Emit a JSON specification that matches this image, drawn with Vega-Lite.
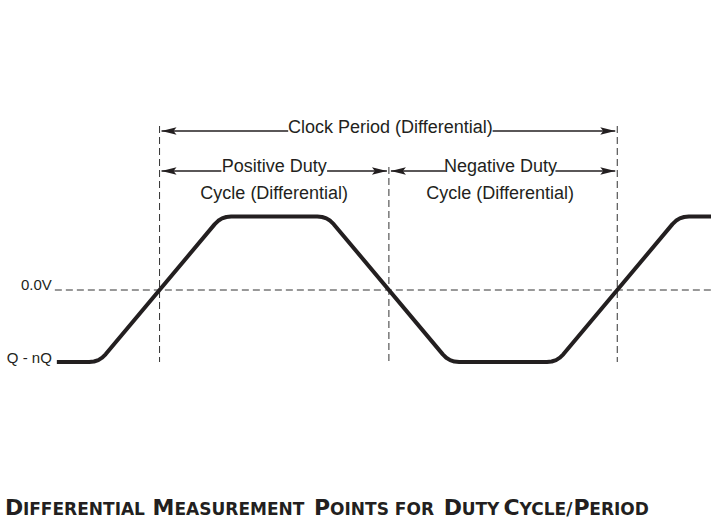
{
  "$schema": "https://vega.github.io/schema/vega-lite/v6.json",
  "width": 713,
  "height": 523,
  "autosize": {"type": "fit", "contains": "padding"},
  "padding": 0,
  "background": "white",
  "config": {"view": {"stroke": null}},
  "datasets": {
    "wave": [
      {"t": 57, "v": 362},
      {"t": 89.5, "v": 362}, {"t": 94.27, "v": 361.52}, {"t": 98.6, "v": 360.08}, {"t": 102.47, "v": 357.67}, {"t": 105.9, "v": 354.3},
      {"t": 215.37, "v": 224.16}, {"t": 218.82, "v": 220.81}, {"t": 222.69, "v": 218.42}, {"t": 227.03, "v": 216.98}, {"t": 231.8, "v": 216.5},
      {"t": 318.2, "v": 216.5}, {"t": 322.99, "v": 216.98}, {"t": 327.31, "v": 218.42}, {"t": 331.21, "v": 220.81}, {"t": 334.64, "v": 224.16},
      {"t": 444.07, "v": 354.35}, {"t": 447.51, "v": 357.7}, {"t": 451.4, "v": 360.09}, {"t": 455.72, "v": 361.53}, {"t": 460.5, "v": 362},
      {"t": 548.5, "v": 362}, {"t": 553.27, "v": 361.52}, {"t": 557.6, "v": 360.08}, {"t": 561.47, "v": 357.67}, {"t": 564.9, "v": 354.3},
      {"t": 674.37, "v": 224.16}, {"t": 677.82, "v": 220.81}, {"t": 681.69, "v": 218.42}, {"t": 686.03, "v": 216.98}, {"t": 690.8, "v": 216.5},
      {"t": 713, "v": 216.5}
    ],
    "hdash": [{"t": 55, "t2": 713, "v": 290}],
    "vdash": [
      {"t": 160, "v": 126, "v2": 362},
      {"t": 390, "v": 167, "v2": 362},
      {"t": 619, "v": 126, "v2": 362}
    ],
    "segs": [
      {"t": 162, "t2": 289, "v": 131},
      {"t": 494, "t2": 617, "v": 131},
      {"t": 162, "t2": 222, "v": 171},
      {"t": 328, "t2": 388, "v": 171},
      {"t": 392, "t2": 447, "v": 171},
      {"t": 557, "t2": 617, "v": 171}
    ],
    "heads": [
      {"t": 162, "v": 131, "dir": "left"},
      {"t": 162, "v": 171, "dir": "left"},
      {"t": 392, "v": 171, "dir": "left"},
      {"t": 617, "v": 131, "dir": "right"},
      {"t": 388, "v": 171, "dir": "right"},
      {"t": 617, "v": 171, "dir": "right"}
    ],
    "notes": [
      {"t": 391.5, "v": 133, "text": "Clock Period (Differential)"},
      {"t": 275, "v": 172, "text": "Positive Duty"},
      {"t": 275, "v": 198.5, "text": "Cycle (Differential)"},
      {"t": 502, "v": 172, "text": "Negative Duty"},
      {"t": 501.5, "v": 198.5, "text": "Cycle (Differential)"}
    ],
    "levels": [
      {"t": 52, "v": 289.5, "text": "0.0V"},
      {"t": 52, "v": 363, "text": "Q - nQ"}
    ],
    "title": [
      {"t": 5, "v": 515, "text": "D", "role": "cap"},
      {"t": 23, "v": 515, "text": "IFFERENTIAL", "role": "small"},
      {"t": 153, "v": 515, "text": "M", "role": "cap"},
      {"t": 175, "v": 515, "text": "EASUREMENT", "role": "small"},
      {"t": 315, "v": 515, "text": "P", "role": "cap"},
      {"t": 331, "v": 515, "text": "OINTS FOR", "role": "small"},
      {"t": 445, "v": 515, "text": "D", "role": "cap"},
      {"t": 463, "v": 515, "text": "UTY", "role": "small"},
      {"t": 505, "v": 515, "text": "C", "role": "cap"},
      {"t": 521, "v": 515, "text": "YCLE/", "role": "small"},
      {"t": 575, "v": 515, "text": "P", "role": "cap"},
      {"t": 591, "v": 515, "text": "ERIOD", "role": "small"}
    ]
  },
  "encoding": {
    "x": {"field": "t", "type": "quantitative", "scale": {"domain": [0, 713], "nice": false, "zero": false}, "axis": null},
    "y": {"field": "v", "type": "quantitative", "scale": {"domain": [0, 523], "nice": false, "zero": false, "reverse": true}, "axis": null}
  },
  "layer": [
    {
      "data": {"name": "hdash"},
      "mark": {"type": "rule", "color": "#333333", "strokeWidth": 1, "strokeDash": [7, 4]},
      "encoding": {"x2": {"field": "t2"}}
    },
    {
      "data": {"name": "vdash"},
      "mark": {"type": "rule", "color": "#333333", "strokeWidth": 1, "strokeDash": [7, 4]},
      "encoding": {"y2": {"field": "v2"}}
    },
    {
      "data": {"name": "wave"},
      "mark": {"type": "line", "color": "#231f20", "strokeWidth": 4, "strokeJoin": "round", "strokeCap": "butt"},
      "encoding": {"order": {"field": "t", "type": "quantitative"}}
    },
    {
      "data": {"name": "segs"},
      "mark": {"type": "rule", "color": "#231f20", "strokeWidth": 1.3},
      "encoding": {"x2": {"field": "t2"}}
    },
    {
      "data": {"name": "heads"},
      "transform": [{"filter": "datum.dir === 'left'"}],
      "mark": {"type": "point", "filled": true, "color": "#231f20", "opacity": 1, "size": 900, "strokeWidth": 0, "shape": "M0,0L1,-0.25L0.8,0L1,0.25Z"}
    },
    {
      "data": {"name": "heads"},
      "transform": [{"filter": "datum.dir === 'right'"}],
      "mark": {"type": "point", "filled": true, "color": "#231f20", "opacity": 1, "size": 900, "strokeWidth": 0, "shape": "M0,0L-1,-0.25L-0.8,0L-1,0.25Z"}
    },
    {
      "data": {"name": "notes"},
      "mark": {"type": "text", "font": "Liberation Sans", "fontSize": 18, "color": "#231f20", "align": "center", "baseline": "alphabetic"},
      "encoding": {"text": {"field": "text"}}
    },
    {
      "data": {"name": "levels"},
      "mark": {"type": "text", "font": "Liberation Sans", "fontSize": 15, "color": "#231f20", "align": "right", "baseline": "alphabetic"},
      "encoding": {"text": {"field": "text"}}
    },
    {
      "data": {"name": "title"},
      "transform": [{"filter": "datum.role === 'cap'"}],
      "mark": {"type": "text", "font": "DejaVu Sans", "fontWeight": "bold", "fontSize": 22, "color": "#231f20", "align": "left", "baseline": "alphabetic"},
      "encoding": {"text": {"field": "text"}}
    },
    {
      "data": {"name": "title"},
      "transform": [{"filter": "datum.role === 'small'"}],
      "mark": {"type": "text", "font": "DejaVu Sans", "fontWeight": "bold", "fontSize": 17, "color": "#231f20", "align": "left", "baseline": "alphabetic"},
      "encoding": {"text": {"field": "text"}}
    }
  ]
}
